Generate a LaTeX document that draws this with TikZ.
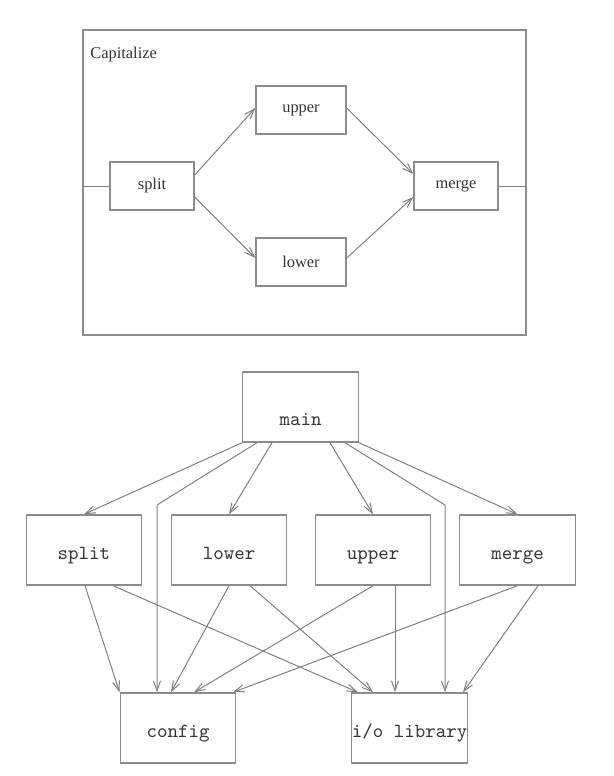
\documentclass[tikz,border=0pt]{standalone}
\usepackage{fontspec}
\setmainfont{Liberation Serif}
\usetikzlibrary{arrows.meta,calc}

\tikzset{
  boxline/.style={draw=black!45, line width=0.7pt},
  stage/.style={boxline, inner sep=0pt, minimum height=24pt, font=\fontsize{8.2}{10}\selectfont, text=black!80},
  modbox/.style={boxline, inner sep=0pt, minimum width=57.75pt, text height=22pt, text depth=13pt, font=\ttfamily, text=black!80},
  flow/.style={draw=black!50, line width=0.5pt, -{Straight Barb[length=5pt,width=3.5pt]}},
  wire/.style={draw=black!50, line width=0.5pt}
}

\begin{document}
\begin{tikzpicture}[x=0.5pt,y=-0.5pt]
\useasboundingbox (0,0) rectangle (614,776);

% Capitalize pipeline
\node[boxline, inner sep=0pt, minimum width=221.5pt, minimum height=152.5pt] (capframe) at (304.5,182.5) {};
\node[anchor=base west, inner sep=0pt, font=\fontsize{8.2}{10}\selectfont, text=black!80] (captitle) at (90,58) {Capitalize};
\node[stage, minimum width=42pt] (split) at (152,186) {split};
\node[stage, minimum width=45pt] (upper) at (301,110) {upper};
\node[stage, minimum width=45pt] (lower) at (301,262) {lower};
\node[stage, minimum width=42pt] (merge) at (456,186) {merge};

\draw[wire] (capframe.west |- split.west) -- (split.west);
\draw[wire] (merge.east) -- (capframe.east |- merge.east);
\draw[flow] ([yshift=5.5pt]split.east) -- ([yshift=1pt]upper.west);
\draw[flow] ([yshift=-5.5pt]split.east) -- ([yshift=2pt]lower.west);
\draw[flow] ([yshift=1pt]upper.east) -- ([yshift=6pt]merge.west);
\draw[flow] ([yshift=2pt]lower.east) -- ([yshift=-5.5pt]merge.west);

% Module dependencies
\node[modbox, text height=26.5pt, text depth=8.5pt] (mainmod) at (300.5,407) {main};
\node[modbox] (splitmod) at (84,550) {split};
\node[modbox] (lowermod) at (229,550) {lower};
\node[modbox] (uppermod) at (373,550) {upper};
\node[modbox] (mergemod) at (517.5,550) {merge};
\node[modbox] (config) at (178,728) {config};
\node[modbox] (iolib) at (409.5,728) {i/o library};

\coordinate (cfgbend) at (157,505);
\coordinate (iobend) at (445,505);

\draw[flow] (mainmod.south west) -- (splitmod.north);
\draw[flow] ($(mainmod.south)+(-43.5,0)$) -- (cfgbend) -- (cfgbend |- config.north);
\draw[flow] ($(mainmod.south)+(-28.5,0)$) -- (lowermod.north);
\draw[flow] ($(mainmod.south)+(29.5,0)$) -- (uppermod.north);
\draw[flow] ($(mainmod.south)+(44.5,0)$) -- (iobend) -- (iobend |- iolib.north);
\draw[flow] (mainmod.south east) -- (mergemod.north);

\draw[flow] ($(splitmod.south)+(1,0)$) -- (config.north west);
\draw[flow] ($(splitmod.south)+(29,0)$) -- ($(iolib.north)+(-51.5,0)$);
\draw[flow] (lowermod.south) -- ($(config.north)+(-7,0)$);
\draw[flow] ($(lowermod.south)+(21,0)$) -- ($(iolib.north)+(-36.5,0)$);
\draw[flow] (uppermod.south) -- ($(config.north)+(16,0)$);
\draw[flow] ($(uppermod.south)+(22,0)$) -- ($(iolib.north)+(-14.5,0)$);
\draw[flow] (mergemod.south) -- ($(config.north)+(55,0)$);
\draw[flow] ($(mergemod.south)+(20.5,0)$) -- ($(iolib.north)+(53.5,0)$);
\end{tikzpicture}
\end{document}
